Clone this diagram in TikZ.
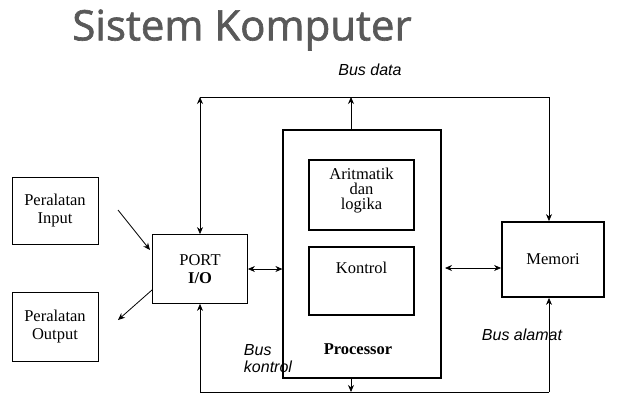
\documentclass[tikz,border=0pt]{standalone}
\usepackage{fontspec}
\setmainfont{Liberation Serif}
\newfontfamily\titlefont{Open Sans}[FakeBold=1.5]
\newfontfamily\busfont{Liberation Sans}
\usetikzlibrary{positioning,arrows.meta}
\begin{document}
\begin{tikzpicture}[x=1pt,y=-1pt,>={Stealth[length=7pt,width=6pt]},
	box/.style={draw,line width=0.8pt,align=center,font=\fontsize{16.5}{18}\selectfont,inner sep=0pt},
	thick box/.style={box,line width=1.8pt},
	bus/.style={font=\busfont\itshape\fontsize{16}{17}\selectfont,align=left}]
	\useasboundingbox (0,0) rectangle (618,407);
	\node[font=\titlefont\fontsize{42}{44}\selectfont,text=black!65] (title) at (242,30) {Sistem Komputer};
	\node[bus] (busdata) at (370,70) {Bus data};
	% kotak-kotak
	\node[box,minimum width=86pt,minimum height=67pt] (input) at (55,211) {Peralatan\\Input};
	\node[box,minimum width=86pt,minimum height=69pt] (output) at (55,327) {Peralatan\\Output};
	\node[box,minimum width=95pt,minimum height=69pt] (port) at (200,269) {PORT\\\textbf{I/O}};
	\node[box,line width=1.2pt,minimum width=158pt,minimum height=248pt] (proc) at (362,254) {};
	\node[font=\bfseries\fontsize{16.5}{18}\selectfont] (proclabel) at (358,349) {Processor};
	\node[thick box,minimum width=105pt,minimum height=70pt] (alu) at (361.5,195) {};
	\node[font=\fontsize{16.5}{15}\selectfont,align=center] (alutext) at (361.5,191) {Aritmatik\\dan\\logika};
	\node[thick box,minimum width=105pt,minimum height=68pt] (kontrol) at (361.5,281) {};
	\node[font=\fontsize{16.5}{18}\selectfont] (kontroltext) at (361.5,268) {Kontrol};
	\node[thick box,minimum width=102pt,minimum height=75pt] (memori) at (553,259.5) {Memori};
	% jalur bus
	\coordinate (tl) at (200,97);
	\coordinate (tr) at (549,97);
	\coordinate (tm) at (351,97);
	\coordinate (bl) at (200,392);
	\coordinate (br) at (549,392);
	\coordinate (bm) at (351,392);
	\draw[line width=0.8pt] (tl) -- (tr);
	\draw[line width=0.8pt] (bl) -- (br);
	\draw[<->,line width=0.8pt] (port.north) -- (tl);
	\draw[->,line width=0.8pt] (tr) -- (memori.north -| tr);
	\draw[->,line width=0.8pt] (proc.north -| tm) -- (tm);
	\draw[->,line width=0.8pt] (bl) -- (port.south);
	\draw[->,line width=0.8pt] (br) -- (memori.south -| br);
	\draw[->,line width=0.8pt] (proc.south -| bm) -- (bm);
	% panah antar kotak
	\draw[->,line width=0.8pt] (118,210) -- (150,250);
	\draw[->,line width=0.8pt] (152,290) -- (118,320);
	\draw[<->,line width=0.8pt] (port.east) -- (proc.west |- port.east);
	\draw[<->,line width=0.8pt] (445,268) -- (memori.west |- 0,268);
	% label bus
	\node[bus] (buskontrol) at (268,359) {Bus\\kontrol};
	\node[bus] (busalamat) at (522,335) {Bus alamat};
\end{tikzpicture}
\end{document}
